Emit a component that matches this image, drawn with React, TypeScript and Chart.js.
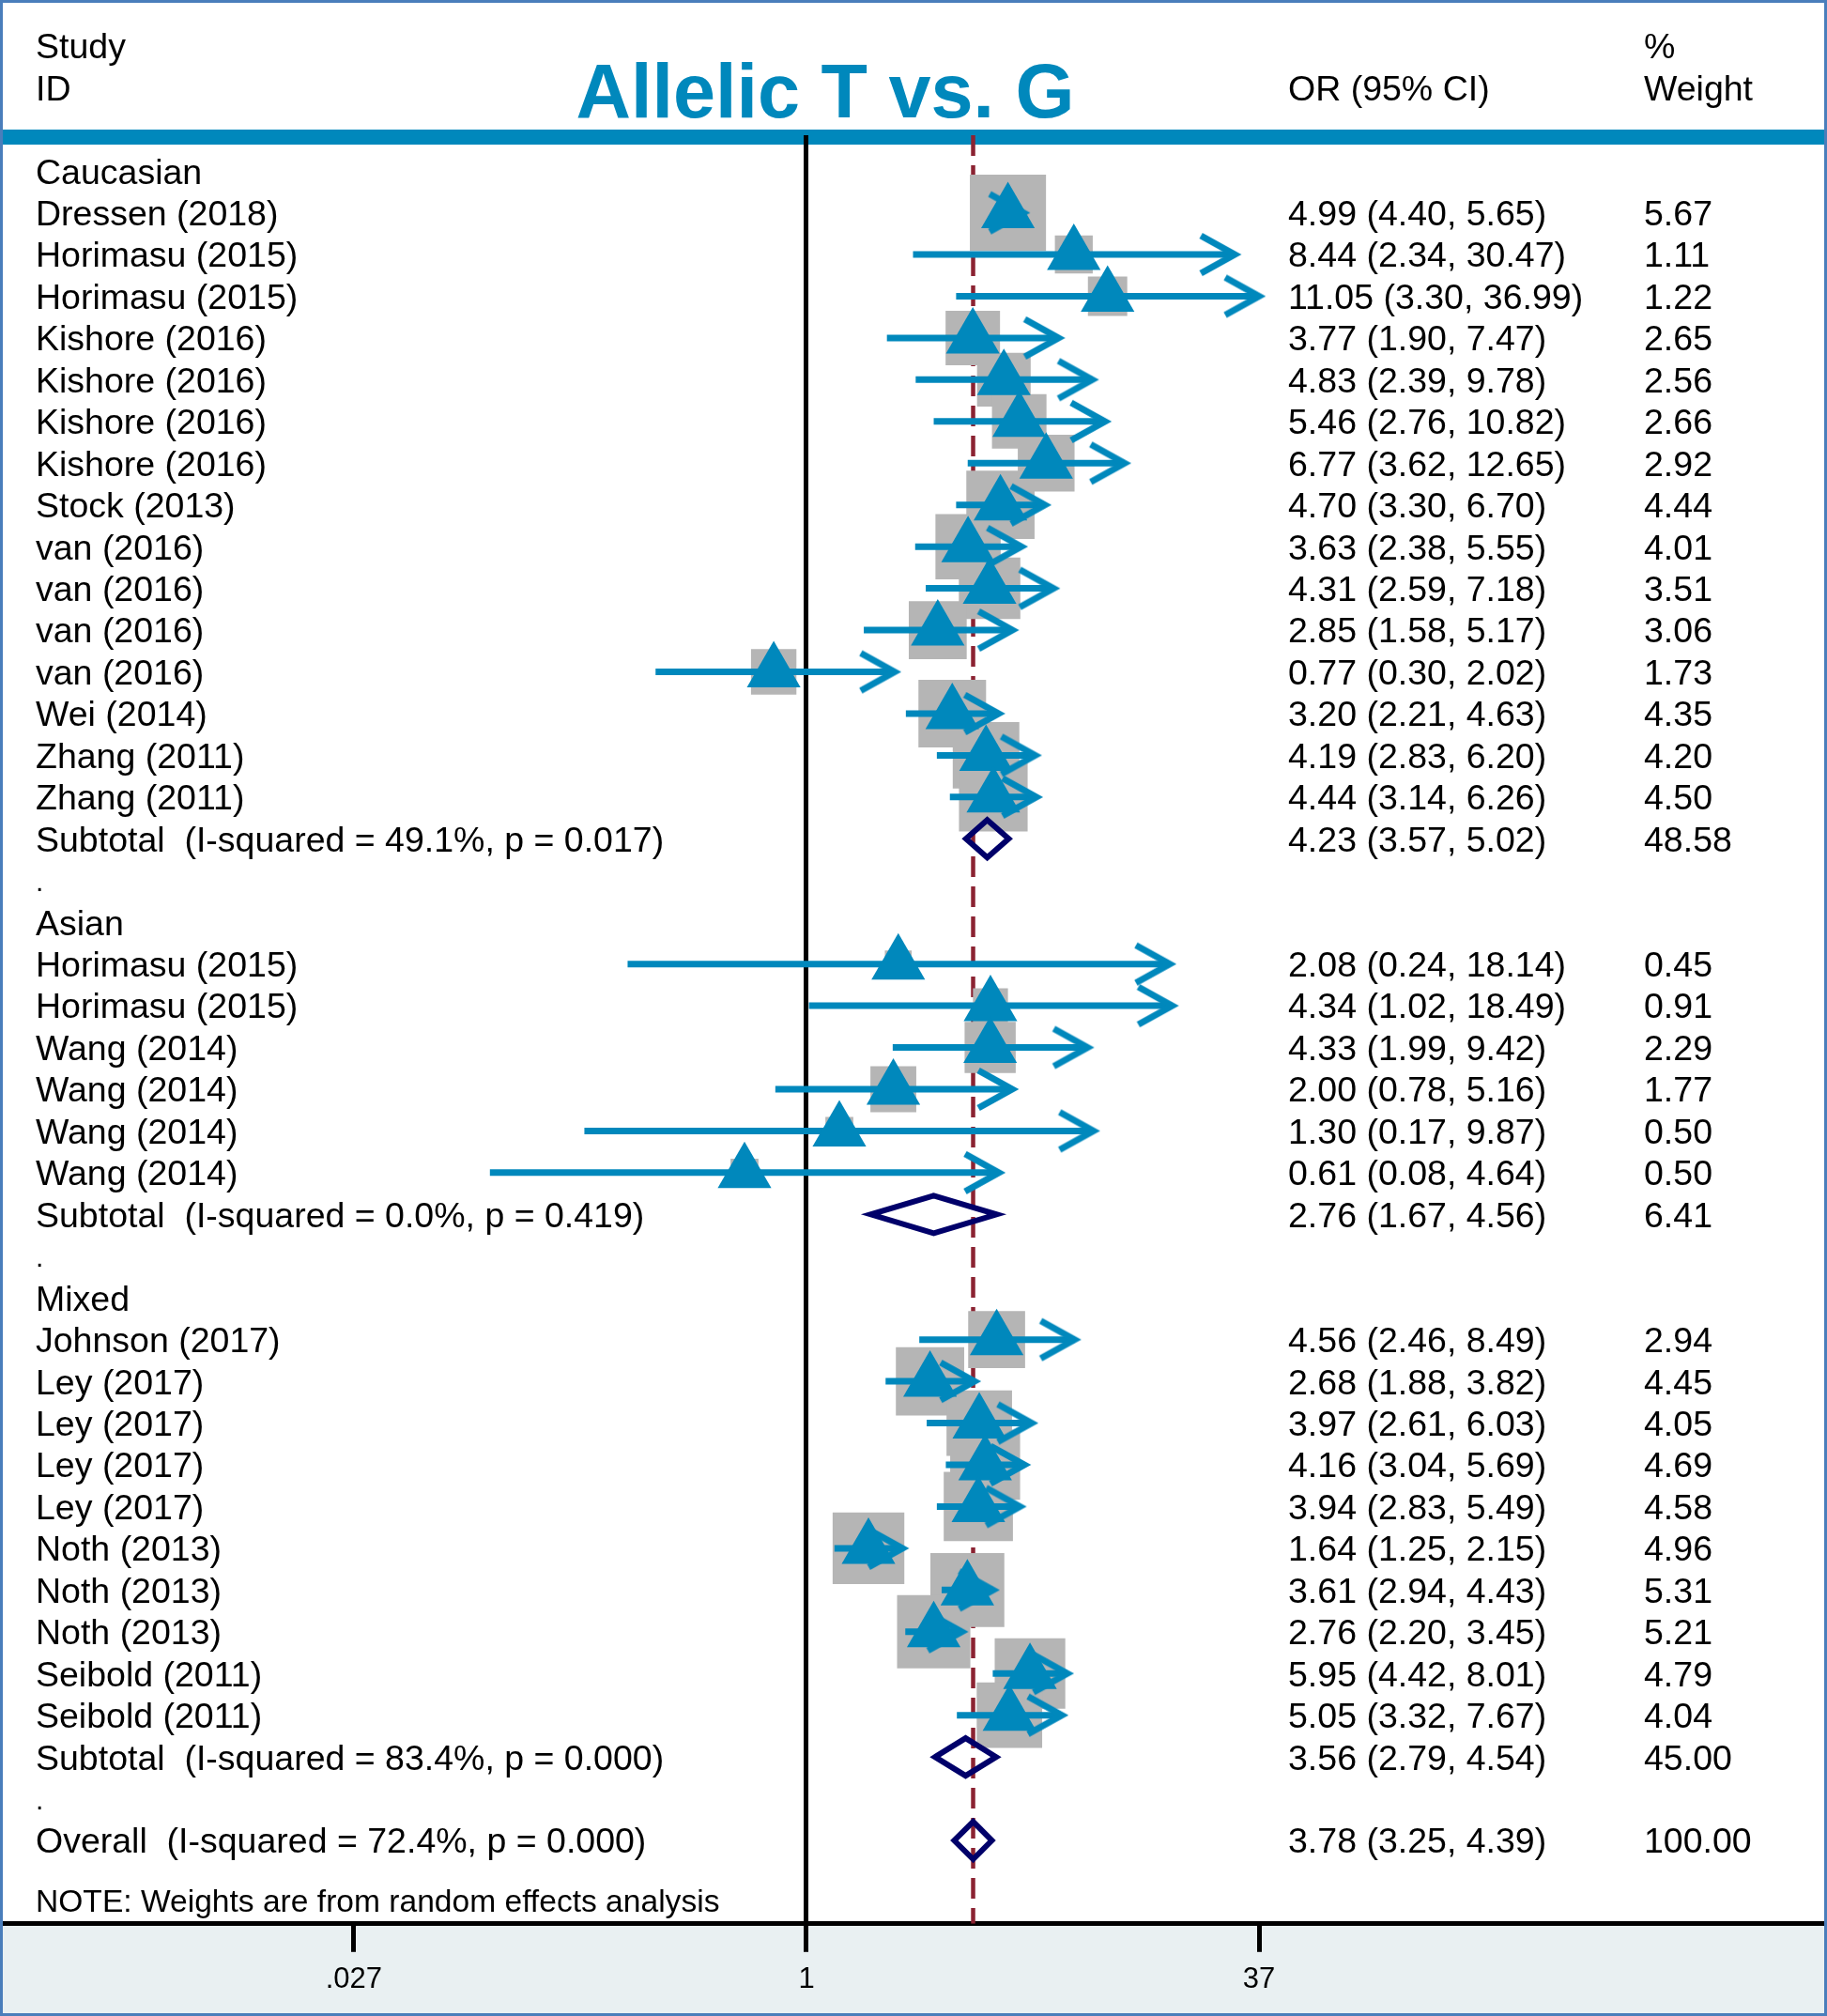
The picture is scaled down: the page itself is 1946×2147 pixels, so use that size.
import React, { useEffect, useRef } from 'react';
import { Chart, registerables } from 'chart.js';
Chart.register(...registerables);

// ---------- DATA ----------
const STUDY_LABELS = [
  'Dressen (2018)', 'Horimasu (2015)', 'Horimasu (2015)', 'Kishore (2016)', 'Kishore (2016)',
  'Kishore (2016)', 'Kishore (2016)', 'Stock (2013)', 'van (2016)', 'van (2016)', 'van (2016)',
  'van (2016)', 'Wei (2014)', 'Zhang (2011)', 'Zhang (2011)',
  'Horimasu (2015)', 'Horimasu (2015)', 'Wang (2014)', 'Wang (2014)', 'Wang (2014)', 'Wang (2014)',
  'Johnson (2017)', 'Ley (2017)', 'Ley (2017)', 'Ley (2017)', 'Ley (2017)', 'Noth (2013)',
  'Noth (2013)', 'Noth (2013)', 'Seibold (2011)', 'Seibold (2011)',
];
const STUDY_ROWS = [
  1, 2, 3, 4, 5, 6, 7, 8, 9, 10, 11, 12, 13, 14, 15,
  19, 20, 21, 22, 23, 24,
  28, 29, 30, 31, 32, 33, 34, 35, 36, 37,
];
const STUDY_OR = [
  4.99, 8.44, 11.05, 3.77, 4.83, 5.46, 6.77, 4.70, 3.63, 4.31, 2.85, 0.77, 3.20, 4.19, 4.44,
  2.08, 4.34, 4.33, 2.00, 1.30, 0.61,
  4.56, 2.68, 3.97, 4.16, 3.94, 1.64, 3.61, 2.76, 5.95, 5.05,
];
const STUDY_LO = [
  4.40, 2.34, 3.30, 1.90, 2.39, 2.76, 3.62, 3.30, 2.38, 2.59, 1.58, 0.30, 2.21, 2.83, 3.14,
  0.24, 1.02, 1.99, 0.78, 0.17, 0.08,
  2.46, 1.88, 2.61, 3.04, 2.83, 1.25, 2.94, 2.20, 4.42, 3.32,
];
const STUDY_HI = [
  5.65, 30.47, 36.99, 7.47, 9.78, 10.82, 12.65, 6.70, 5.55, 7.18, 5.17, 2.02, 4.63, 6.20, 6.26,
  18.14, 18.49, 9.42, 5.16, 9.87, 4.64,
  8.49, 3.82, 6.03, 5.69, 5.49, 2.15, 4.43, 3.45, 8.01, 7.67,
];
const STUDY_WEIGHT = [
  5.67, 1.11, 1.22, 2.65, 2.56, 2.66, 2.92, 4.44, 4.01, 3.51, 3.06, 1.73, 4.35, 4.20, 4.50,
  0.45, 0.91, 2.29, 1.77, 0.50, 0.50,
  2.94, 4.45, 4.05, 4.69, 4.58, 4.96, 5.31, 5.21, 4.79, 4.04,
];

const GROUP_LABELS = ['Caucasian', 'Asian', 'Mixed'];
const GROUP_ROWS = [0, 18, 27];

const POOLED_LABELS = [
  'Subtotal  (I-squared = 49.1%, p = 0.017)',
  'Subtotal  (I-squared = 0.0%, p = 0.419)',
  'Subtotal  (I-squared = 83.4%, p = 0.000)',
  'Overall  (I-squared = 72.4%, p = 0.000)',
];
const POOLED_ROWS = [16, 25, 38, 40];
const POOLED_OR = [4.23, 2.76, 3.56, 3.78];
const POOLED_LO = [3.57, 1.67, 2.79, 3.25];
const POOLED_HI = [5.02, 4.56, 4.54, 4.39];
const POOLED_WEIGHT = [48.58, 6.41, 45.0, 100.0];

const SPACER_ROWS = [17, 26, 39];

const TICK_VALUES = [0.027, 1, 37];
const TICK_LABELS = ['.027', '1', '37'];

const TITLE = 'Allelic T vs. G';
const NOTE = 'NOTE: Weights are from random effects analysis';

// ---------- STYLE / LAYOUT ----------
const W = 1946;
const H = 2147;
const BLUE = '#0088bc';
const NAVY = '#00006a';
const RED = '#8b2332';
const GRAY = '#b5b5b5';
const FONT = '"Liberation Sans", Arial, Helvetica, sans-serif';
const ROW0_PX = 182.1;
const ROW_STEP = 44.41;
const AREA_TOP = 144;
const AREA_BOTTOM = 2047.2;
const Y_MIN = (AREA_TOP - ROW0_PX) / ROW_STEP;
const Y_MAX = (AREA_BOTTOM - ROW0_PX) / ROW_STEP;
const PX_PER_LN = 133.5;
const NULL_PX = 859;
const X_MIN = Math.exp(-(NULL_PX - 4) / PX_PER_LN);
const X_MAX = Math.exp((W - 4 - NULL_PX) / PX_PER_LN);
const DIAMOND_HALF = 0.45;

const fmt = (v: number) => v.toFixed(2);

const decor = {
  id: 'forestDecor',
  beforeDraw(chart: any) {
    const ctx = chart.ctx;
    ctx.save();
    ctx.fillStyle = '#ffffff';
    ctx.fillRect(0, 0, W, H);
    ctx.fillStyle = BLUE;
    ctx.fillRect(3, 138, W - 6, 16);
    ctx.fillStyle = '#e9f0f2';
    ctx.fillRect(3, 2049, W - 6, H - 2049 - 3);
    ctx.restore();
  },
  afterDraw(chart: any) {
    const ctx = chart.ctx;
    const y = chart.scales.y;
    const TS = 37.5;
    ctx.save();
    ctx.textBaseline = 'alphabetic';
    ctx.textAlign = 'left';
    ctx.fillStyle = '#000';
    const text = (s: string, x: number, base: number, size = TS) => {
      ctx.font = `${size}px ${FONT}`;
      ctx.fillText(s, x, base);
    };
    const rowBase = (r: number) => y.getPixelForValue(r) + 13.4;

    // header
    text('Study', 38, 62);
    text('ID', 38, 107);
    text('OR (95% CI)', 1372, 107);
    text('%', 1751, 62);
    text('Weight', 1751, 107);
    ctx.font = `bold 81px ${FONT}`;
    ctx.fillStyle = BLUE;
    ctx.textAlign = 'center';
    ctx.fillText(TITLE, 879, 125);
    ctx.textAlign = 'left';
    ctx.fillStyle = '#000';

    GROUP_LABELS.forEach((s, i) => text(s, 38, rowBase(GROUP_ROWS[i])));
    SPACER_ROWS.forEach((r) => text('.', 38, rowBase(r) - 2, 30));
    STUDY_LABELS.forEach((s, i) => {
      const b = rowBase(STUDY_ROWS[i]);
      text(s, 38, b);
      text(`${fmt(STUDY_OR[i])} (${fmt(STUDY_LO[i])}, ${fmt(STUDY_HI[i])})`, 1372, b);
      text(fmt(STUDY_WEIGHT[i]), 1751, b);
    });
    POOLED_LABELS.forEach((s, i) => {
      const b = rowBase(POOLED_ROWS[i]);
      text(s, 38, b);
      text(`${fmt(POOLED_OR[i])} (${fmt(POOLED_LO[i])}, ${fmt(POOLED_HI[i])})`, 1372, b);
      text(fmt(POOLED_WEIGHT[i]), 1751, b);
    });
    text(NOTE, 38, 2036, 33.6);

    // outer frame
    ctx.strokeStyle = '#4a7ebb';
    ctx.lineWidth = 3;
    ctx.strokeRect(1.5, 1.5, W - 3, H - 3);
    ctx.restore();
  },
};

export default function App() {
  const ref = useRef<HTMLCanvasElement>(null);
  useEffect(() => {
    document.body.style.margin = '0';
    const canvas = ref.current;
    if (!canvas) return;

    // arrowhead marker drawn centred on its tip
    const arrow = document.createElement('canvas');
    arrow.width = 90;
    arrow.height = 60;
    const a = arrow.getContext('2d')!;
    a.strokeStyle = BLUE;
    a.lineWidth = 7;
    a.lineJoin = 'miter';
    a.lineCap = 'butt';
    a.beginPath();
    a.moveTo(45 - 36, 30 - 20);
    a.lineTo(45, 30);
    a.lineTo(45 - 36, 30 + 20);
    a.stroke();

    const datasets: any[] = [];
    datasets.push({
      data: [{ x: POOLED_OR[3], y: Y_MIN }, { x: POOLED_OR[3], y: Y_MAX }],
      showLine: true, borderColor: RED, borderWidth: 4.5, borderDash: [22, 10],
      pointRadius: 0, order: 50,
    });
    datasets.push({
      data: STUDY_OR.map((v, i) => ({ x: v, y: STUDY_ROWS[i] })),
      pointStyle: 'rect',
      pointRadius: STUDY_WEIGHT.map((w) => (8 + 30.7 * Math.sqrt(w)) / Math.SQRT2),
      backgroundColor: GRAY, borderColor: GRAY, borderWidth: 0, order: 40,
    });
    STUDY_OR.forEach((_, i) => {
      datasets.push({
        data: [{ x: STUDY_LO[i], y: STUDY_ROWS[i] }, { x: STUDY_HI[i], y: STUDY_ROWS[i] }],
        showLine: true, borderColor: BLUE, borderWidth: 7, pointRadius: 0, order: 30,
      });
    });
    datasets.push({
      data: STUDY_HI.map((v, i) => ({ x: v, y: STUDY_ROWS[i] })),
      pointStyle: arrow, pointRadius: 1, backgroundColor: BLUE, borderColor: BLUE, order: 25,
    });
    datasets.push({
      data: STUDY_OR.map((v, i) => ({ x: v, y: STUDY_ROWS[i] })),
      pointStyle: 'triangle', pointRadius: 33, backgroundColor: BLUE, borderColor: BLUE,
      borderWidth: 0, order: 20,
    });
    POOLED_OR.forEach((v, i) => {
      const r = POOLED_ROWS[i];
      datasets.push({
        data: [
          { x: POOLED_LO[i], y: r }, { x: v, y: r - DIAMOND_HALF }, { x: POOLED_HI[i], y: r },
          { x: v, y: r + DIAMOND_HALF }, { x: POOLED_LO[i], y: r }, { x: v, y: r - DIAMOND_HALF },
        ],
        showLine: true, borderColor: NAVY, borderWidth: 6, pointRadius: 0, fill: false,
        borderJoinStyle: 'miter', order: 10,
      });
    });

    const chart = new Chart(canvas, {
      type: 'scatter',
      data: { datasets },
      options: {
        responsive: false,
        animation: false,
        devicePixelRatio: 1,
        events: [],
        layout: { autoPadding: false, padding: { top: AREA_TOP, left: 4, right: 4, bottom: 9 } },
        plugins: { legend: { display: false }, tooltip: { enabled: false } },
        scales: {
          x: {
            type: 'logarithmic',
            min: X_MIN,
            max: X_MAX,
            bounds: 'data',
            position: 'bottom',
            afterBuildTicks: (s: any) => {
              s.ticks = TICK_VALUES.map((v) => ({ value: v }));
            },
            ticks: {
              callback: (_v: any, idx: number) => TICK_LABELS[idx] ?? '',
              font: { size: 31, family: FONT },
              color: '#000',
              padding: 11,
              maxRotation: 0,
              autoSkip: false,
            },
            grid: {
              color: (c: any) => (c.tick && c.tick.value === 1 ? '#000' : 'rgba(0,0,0,0)'),
              lineWidth: 5,
              drawOnChartArea: true,
              drawTicks: true,
              tickLength: 30,
              tickColor: '#000',
              tickWidth: 5,
            },
            border: { display: true, color: '#000', width: 5 },
          },
          y: {
            type: 'linear',
            reverse: true,
            min: Y_MIN,
            max: Y_MAX,
            bounds: 'data',
            display: false,
          },
        },
      } as any,
      plugins: [decor],
    });
    return () => chart.destroy();
  }, []);

  return (
    <div style={{ position: 'absolute', left: 0, top: 0, width: W, height: H }}>
      <canvas ref={ref} width={W} height={H} style={{ width: W, height: H, display: 'block' }} />
    </div>
  );
}
